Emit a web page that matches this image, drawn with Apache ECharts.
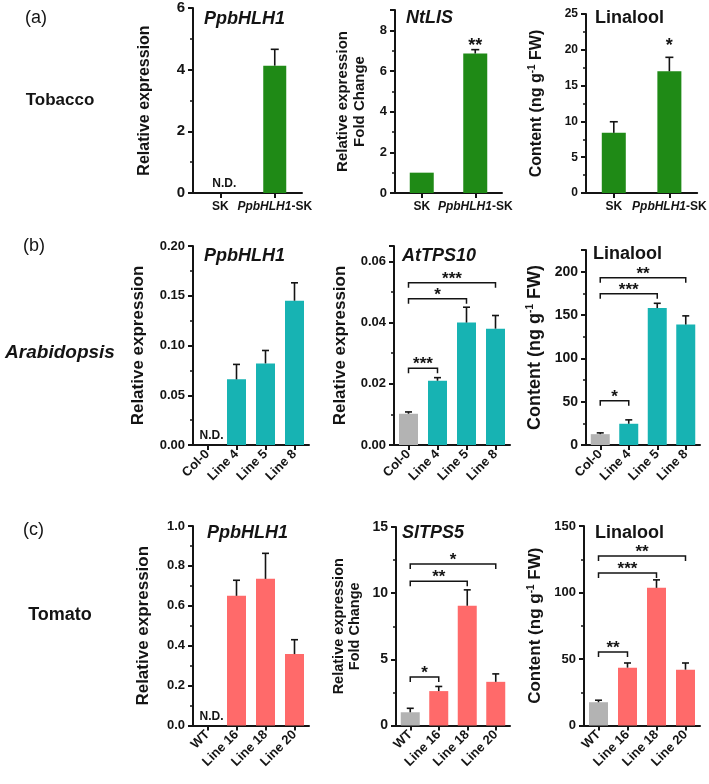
<!DOCTYPE html>
<html>
<head>
<meta charset="utf-8">
<script src="https://cdn.jsdelivr.net/npm/echarts@6/dist/echarts.min.js"></script>
<style>
  html, body { margin: 0; padding: 0; background: #fff; }
  #chart { width: 709px; height: 784px; }
</style>
</head>
<body>
<div id="chart"></div>
<script>
var FONT = '"Liberation Sans", Arial, sans-serif';
var INK = '#141414';
var GREEN = '#1f8a16';
var TEAL = '#17b3b3';
var SALMON = '#ff6a6a';
var GREY = '#b3b3b3';

// (a) tobacco
var tobaccoLines = ['SK', 'PpbHLH1-SK'];
var tobaccoHLH1 = [null, 4.13];
var tobaccoHLH1Err = [null, 0.53];
var tobaccoLIS = [1.0, 6.86];
var tobaccoLISErr = [null, 0.19];
var tobaccoLinalool = [8.4, 17.0];
var tobaccoLinaloolErr = [1.55, 1.95];

// (b) arabidopsis
var araLines = ['Col-0', 'Line 4', 'Line 5', 'Line 8'];
var araHLH1 = [null, 0.066, 0.082, 0.145];
var araHLH1Err = [null, 0.015, 0.013, 0.018];
var araTPS10 = [0.0102, 0.021, 0.040, 0.038];
var araTPS10Err = [0.0006, 0.001, 0.005, 0.0043];
var araLinalool = [12.5, 24.5, 158, 139];
var araLinaloolErr = [1.5, 4.5, 5.5, 10];

// (c) tomato
var tomLines = ['WT', 'Line 16', 'Line 18', 'Line 20'];
var tomHLH1 = [null, 0.65, 0.735, 0.358];
var tomHLH1Err = [null, 0.078, 0.128, 0.072];
var tomTPS5 = [1.0, 2.6, 9.05, 3.3];
var tomTPS5Err = [0.3, 0.35, 1.2, 0.6];
var tomLinalool = [17.5, 43.5, 103.5, 42];
var tomLinaloolErr = [1.5, 3.5, 6, 5];

// y tick labels
var ticksA1 = [0, 2, 4, 6];
var ticksA2 = [0, 2, 4, 6, 8];
var ticksA3 = [0, 5, 10, 15, 20, 25];
var ticksB1 = [0, 0.05, 0.10, 0.15, 0.20];
var ticksB2 = [0, 0.02, 0.04, 0.06];
var ticksB3 = [0, 50, 100, 150, 200];
var ticksC1 = [0, 0.2, 0.4, 0.6, 0.8, 1.0];
var ticksC2 = [0, 5, 10, 15];
var ticksC3 = [0, 50, 100, 150];

// significance: [from, to, bracket height, stars]
var sigAraTPS10 = [[0, 1, 0.0251, '***'], [0, 2, 0.0478, '*'], [0, 3, 0.053, '***']];
var sigAraLinalool = [[0, 1, 51, '*'], [0, 2, 174.5, '***'], [0, 3, 193, '**']];
var sigTomTPS5 = [[0, 1, 3.67, '*'], [0, 2, 10.9, '**'], [0, 3, 12.2, '*']];
var sigTomLinalool = [[0, 1, 55.3, '**'], [0, 2, 114.7, '***'], [0, 3, 127.4, '**']];
// stars over a single bar: [index, height, stars]
var starTobaccoLIS = [[1, 6.8, '**']];
var starTobaccoLinalool = [[1, 19.3, '*']];
// not detected: [index]
var ndTobacco = [0];
var ndAra = [0];
var ndTom = [0];

var option = {
  animation: false,
  backgroundColor: '#fff',
  textStyle: { fontFamily: FONT, color: INK },
  grid: [], xAxis: [], yAxis: [], series: [], graphic: []
};

function errorBars(k, y, means, errs, cap) {
  var data = [];
  means.forEach(function (m, i) {
    if (m != null && errs[i] != null) data.push([i, m, errs[i]]);
  });
  return {
    type: 'custom', xAxisIndex: k, yAxisIndex: y, z: 5, data: data,
    encode: { x: 0, y: 1 },
    renderItem: function (params, api) {
      var x = api.value(0), m = api.value(1), e = api.value(2);
      var p0 = api.coord([x, m]);
      var p1 = api.coord([x, m + e]);
      var st = { stroke: INK, lineWidth: 1.6 };
      return {
        type: 'group', children: [
          { type: 'line', shape: { x1: p0[0], y1: p0[1], x2: p1[0], y2: p1[1] }, style: st },
          { type: 'line', shape: { x1: p1[0] - cap, y1: p1[1], x2: p1[0] + cap, y2: p1[1] }, style: st }
        ]
      };
    }
  };
}

function brackets(k, y, sig) {
  return {
    type: 'custom', xAxisIndex: k, yAxisIndex: y, z: 6,
    data: sig.map(function (s) { return [s[0], s[1], s[2]]; }),
    encode: { x: 0, y: 2 },
    renderItem: function (params, api) {
      var s = sig[params.dataIndex];
      var a = api.coord([api.value(0), api.value(2)]);
      var b = api.coord([api.value(1), api.value(2)]);
      return {
        type: 'group', children: [
          { type: 'polyline', shape: { points: [[a[0], a[1] + 5], a, b, [b[0], b[1] + 5]] },
            style: { stroke: INK, lineWidth: 1.5, fill: null } },
          { type: 'text', x: (a[0] + b[0]) / 2, y: a[1] + 5,
            style: { text: s[3], font: 'bold 17px ' + FONT, fill: INK, align: 'center', verticalAlign: 'bottom' } }
        ]
      };
    }
  };
}

function stars(k, y, list) {
  return {
    type: 'custom', xAxisIndex: k, yAxisIndex: y, z: 6,
    data: list.map(function (s) { return [s[0], s[1]]; }),
    encode: { x: 0, y: 1 },
    renderItem: function (params, api) {
      var p = api.coord([api.value(0), api.value(1)]);
      return { type: 'text', x: p[0], y: p[1],
        style: { text: list[params.dataIndex][2], font: 'bold 18px ' + FONT, fill: INK, align: 'center', verticalAlign: 'bottom' } };
    }
  };
}

function notDetected(k, y, list) {
  return {
    type: 'custom', xAxisIndex: k, yAxisIndex: y, z: 6,
    data: list.map(function (i) { return [i, 0]; }),
    encode: { x: 0, y: 1 },
    renderItem: function (params, api) {
      var p = api.coord([api.value(0), 0]);
      return { type: 'text', x: p[0] + 4, y: p[1] - 3,
        style: { text: 'N.D.', font: 'bold 12px ' + FONT, fill: INK, align: 'center', verticalAlign: 'bottom' } };
    }
  };
}

function panel(p) {
  var k = option.grid.length;
  var y = option.yAxis.length;
  option.grid.push(p.grid);
  option.xAxis.push({
    type: 'category', gridIndex: k, data: p.cats,
    axisLine: { lineStyle: { color: INK, width: 2 } },
    axisTick: { show: true, alignWithLabel: true, length: 5, lineStyle: { color: INK, width: 2 } },
    axisLabel: p.rotate ? {
      rotate: 45, margin: 7, fontSize: 13, fontWeight: 'bold', color: INK, interval: 0
    } : {
      margin: 8, fontSize: 12, fontWeight: 'bold', color: INK, interval: 0,
      formatter: function (v) { return v.replace('PpbHLH1', '{i|PpbHLH1}'); },
      rich: { i: { fontSize: 12, fontWeight: 'bold', fontStyle: 'italic', color: INK } }
    }
  });
  // main value axis: line, labels, name
  option.yAxis.push({
    type: 'value', gridIndex: k, position: 'left', min: 0, max: p.max, interval: p.interval,
    name: p.name, nameLocation: 'middle', nameGap: p.nameGap,
    nameTextStyle: {
      fontSize: p.nameSize, fontWeight: 'bold', color: INK, lineHeight: p.nameSize + 1.5,
      rich: { sup: { fontSize: 10, fontWeight: 'bold', color: INK, verticalAlign: 'top', lineHeight: p.nameSize + 1.5 } }
    },
    axisLine: { show: true, lineStyle: { color: INK, width: 2 } },
    axisTick: { show: true, length: 5, lineStyle: { color: INK, width: 2 } },
    splitLine: { show: false },
    axisLabel: {
      margin: 8, fontSize: p.labelSize || 13, fontWeight: 'bold', color: INK,
      formatter: function (v) {
        var hit = p.ticks.some(function (t) { return Math.abs(t - v) < 1e-9; });
        return hit ? Number(v).toFixed(p.dec || 0) : '';
      }
    }
  });
  // same scale, shifted 5px left, major ticks pointing back to the axis line
  option.yAxis.push({
    type: 'value', gridIndex: k, position: 'left', offset: 5, min: 0, max: p.max, interval: p.interval,
    axisLine: { show: false },
    axisTick: { show: true, inside: true, length: 5, lineStyle: { color: INK, width: 2 } },
    splitLine: { show: false },
    axisLabel: { show: false }
  });
  // same scale, shifted 3px left, minor ticks only
  option.yAxis.push({
    type: 'value', gridIndex: k, position: 'left', offset: 3, min: 0, max: p.max, interval: p.interval,
    axisLine: { show: false },
    axisTick: { show: false, inside: true },
    minorTick: { show: true, splitNumber: 2, length: 3, lineStyle: { color: INK, width: 1.5 } },
    splitLine: { show: false },
    axisLabel: { show: false }
  });
  option.series.push({
    type: 'bar', xAxisIndex: k, yAxisIndex: y, data: p.values, barWidth: p.barWidth,
    itemStyle: {
      color: function (d) { return (p.control && d.dataIndex === 0) ? GREY : p.color; }
    }
  });
  option.series.push(errorBars(k, y, p.values, p.errs, p.cap));
  if (p.sig) option.series.push(brackets(k, y, p.sig));
  if (p.stars) option.series.push(stars(k, y, p.stars));
  if (p.nd) option.series.push(notDetected(k, y, p.nd));
  option.graphic.push({
    type: 'text', x: p.titleX, y: p.titleY,
    style: { text: p.title, font: (p.italic ? 'italic ' : '') + 'bold 18px ' + FONT, fill: INK, verticalAlign: 'middle' }
  });
}

var RELEXP = 'Relative expression';
var RELFOLD = 'Relative expression\nFold Change';
var CONTENT = 'Content (ng g{sup|-1} FW)';

// row (a)
panel({ grid: { left: 193, top: 8, width: 109, height: 185 }, cats: tobaccoLines, values: tobaccoHLH1, errs: tobaccoHLH1Err,
  max: 6, interval: 2, ticks: ticksA1, labelSize: 15, name: RELEXP, nameGap: 40, nameSize: 16,
  color: GREEN, barWidth: 23, cap: 4, nd: ndTobacco, title: 'PpbHLH1', italic: true, titleX: 204, titleY: 19 });
panel({ grid: { left: 395, top: 10, width: 107, height: 183 }, cats: tobaccoLines, values: tobaccoLIS, errs: tobaccoLISErr,
  max: 9, interval: 2, ticks: ticksA2, labelSize: 13, name: RELFOLD, nameGap: 27, nameSize: 15,
  color: GREEN, barWidth: 24, cap: 4, stars: starTobaccoLIS, title: 'NtLIS', italic: true, titleX: 406, titleY: 18 });
panel({ grid: { left: 586, top: 14, width: 114, height: 179 }, cats: tobaccoLines, values: tobaccoLinalool, errs: tobaccoLinaloolErr,
  max: 25, interval: 5, ticks: ticksA3, labelSize: 12, name: CONTENT, nameGap: 41, nameSize: 16,
  color: GREEN, barWidth: 24, cap: 4, stars: starTobaccoLinalool, title: 'Linalool', italic: false, titleX: 595, titleY: 18 });

// row (b)
panel({ grid: { left: 193, top: 246, width: 116, height: 199 }, cats: araLines, values: araHLH1, errs: araHLH1Err, rotate: true,
  max: 0.2, interval: 0.05, ticks: ticksB1, dec: 2, name: RELEXP, nameGap: 45, nameSize: 17,
  color: TEAL, control: true, barWidth: 19, cap: 3.5, nd: ndAra, title: 'PpbHLH1', italic: true, titleX: 204, titleY: 256 });
panel({ grid: { left: 394, top: 246, width: 116, height: 199 }, cats: araLines, values: araTPS10, errs: araTPS10Err, rotate: true,
  max: 0.065, interval: 0.02, ticks: ticksB2, dec: 2, name: RELEXP, nameGap: 44, nameSize: 17,
  color: TEAL, control: true, barWidth: 19, cap: 3.5, sig: sigAraTPS10, title: 'AtTPS10', italic: true, titleX: 402, titleY: 256 });
panel({ grid: { left: 586, top: 250, width: 114, height: 195 }, cats: araLines, values: araLinalool, errs: araLinaloolErr, rotate: true,
  max: 225, interval: 50, ticks: ticksB3, labelSize: 14, name: CONTENT, nameGap: 41, nameSize: 18,
  color: TEAL, control: true, barWidth: 19, cap: 3.5, sig: sigAraLinalool, title: 'Linalool', italic: false, titleX: 593, titleY: 254 });

// row (c)
panel({ grid: { left: 193, top: 526, width: 116, height: 199.5 }, cats: tomLines, values: tomHLH1, errs: tomHLH1Err, rotate: true,
  max: 1.0, interval: 0.2, ticks: ticksC1, dec: 1, name: RELEXP, nameGap: 40, nameSize: 17,
  color: SALMON, control: true, barWidth: 19, cap: 3.5, nd: ndTom, title: 'PpbHLH1', italic: true, titleX: 207, titleY: 533 });
panel({ grid: { left: 396, top: 527, width: 114, height: 198.5 }, cats: tomLines, values: tomTPS5, errs: tomTPS5Err, rotate: true,
  max: 15, interval: 5, ticks: ticksC2, labelSize: 14, name: RELFOLD, nameGap: 33, nameSize: 14.5,
  color: SALMON, control: true, barWidth: 19, cap: 3.5, sig: sigTomTPS5, title: 'SlTPS5', italic: true, titleX: 402, titleY: 533 });
panel({ grid: { left: 584, top: 526, width: 116, height: 199.5 }, cats: tomLines, values: tomLinalool, errs: tomLinaloolErr, rotate: true,
  max: 150, interval: 50, ticks: ticksC3, name: CONTENT, nameGap: 39, nameSize: 17,
  color: SALMON, control: true, barWidth: 19, cap: 3.5, sig: sigTomLinalool, title: 'Linalool', italic: false, titleX: 595, titleY: 533 });

// row labels
option.graphic.push(
  { type: 'text', x: 25, y: 18, style: { text: '(a)', font: '18px ' + FONT, fill: INK, verticalAlign: 'middle' } },
  { type: 'text', x: 60, y: 100, style: { text: 'Tobacco', font: 'bold 17px ' + FONT, fill: INK, align: 'center', verticalAlign: 'middle' } },
  { type: 'text', x: 23, y: 246, style: { text: '(b)', font: '18px ' + FONT, fill: INK, verticalAlign: 'middle' } },
  { type: 'text', x: 60, y: 353, style: { text: 'Arabidopsis', font: 'italic bold 19px ' + FONT, fill: INK, align: 'center', verticalAlign: 'middle' } },
  { type: 'text', x: 23, y: 530, style: { text: '(c)', font: '18px ' + FONT, fill: INK, verticalAlign: 'middle' } },
  { type: 'text', x: 60, y: 615, style: { text: 'Tomato', font: 'bold 18px ' + FONT, fill: INK, align: 'center', verticalAlign: 'middle' } }
);

var chart = echarts.init(document.getElementById('chart'));
chart.setOption(option);
</script>
</body>
</html>
